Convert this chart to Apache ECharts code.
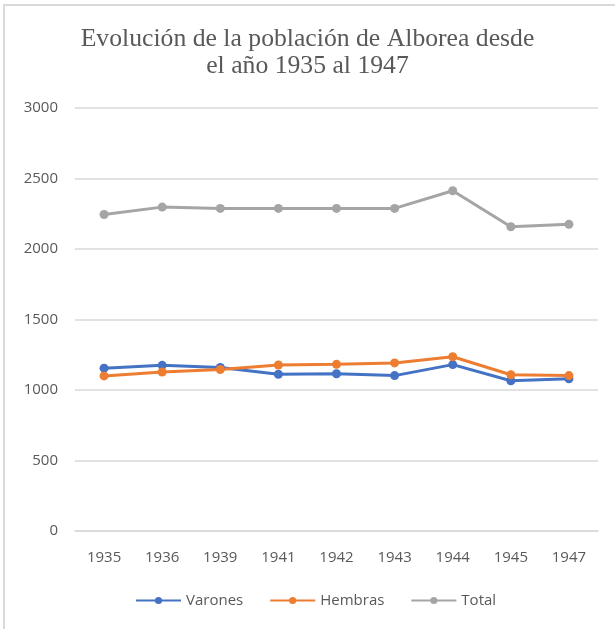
<!DOCTYPE html>
<html>
<head>
    <meta charset="utf-8"/>
    <script type="text/javascript" src="https://cdn.jsdelivr.net/npm/echarts@6/dist/echarts.min.js"></script>
    <style>
        html, body { margin: 0; padding: 0; background: #fff; }
        #chart { width: 615px; height: 629px; }
    </style>
</head>
<body>
<div id="chart"></div>
<script type="text/javascript">
    // datos
    const years = ['1935', '1936', '1939', '1941', '1942', '1943', '1944', '1945', '1947'];
    const varones = [1155, 1175, 1160, 1112, 1115, 1102, 1180, 1066, 1080];
    const hembras = [1100, 1128, 1145, 1177, 1182, 1192, 1236, 1108, 1102];
    const total = [2245, 2297, 2288, 2288, 2288, 2288, 2413, 2158, 2175];

    let chart = echarts.init(document.getElementById('chart'));

    function serie(name, data, color) {
        return {
            name: name,
            type: 'line',
            data: data,
            symbol: 'circle',
            symbolSize: 9,
            itemStyle: { color: color },
            lineStyle: { color: color, width: 3 }
        };
    }

    chart.setOption({
        animation: false,
        graphic: [{
            type: 'rect',
            shape: { x: 4, y: 5, width: 800, height: 800 },
            style: { fill: 'none', stroke: '#d9d9d9', lineWidth: 2 }
        }],
        title: {
            text: 'Evolución de la población de Alborea desde\nel año 1935 al 1947',
            left: 'center',
            top: 21,
            padding: [5, 5, 5, 30],
            textStyle: {
                fontFamily: 'Liberation Serif',
                fontSize: 25.7,
                fontWeight: 'normal',
                color: '#595959',
                lineHeight: 27
            }
        },
        legend: {
            bottom: 16,
            left: 130,
            itemWidth: 45,
            itemHeight: 9,
            itemGap: 26,
            textStyle: { color: '#595959', fontSize: 15, fontFamily: 'Open Sans' },
            data: ['Varones', 'Hembras', 'Total']
        },
        grid: { left: 75, right: 17, top: 108, bottom: 98 },
        xAxis: {
            type: 'category',
            data: years,
            axisTick: { show: false },
            axisLine: { lineStyle: { color: '#d9d9d9', width: 1.5 } },
            axisLabel: { color: '#595959', fontSize: 15, fontFamily: 'Open Sans', margin: 19 }
        },
        yAxis: {
            type: 'value',
            min: 0,
            max: 3000,
            interval: 500,
            axisLine: { show: false },
            axisTick: { show: false },
            axisLabel: {
                color: '#595959', fontSize: 15, fontFamily: 'Open Sans', margin: 17,
                formatter: function (v) { return String(v); }
            },
            splitLine: { lineStyle: { color: '#d9d9d9', width: 1.5 } }
        },
        series: [
            serie('Varones', varones, '#4472C4'),
            serie('Hembras', hembras, '#ED7D31'),
            serie('Total', total, '#A5A5A5')
        ]
    });
</script>
</body>
</html>
